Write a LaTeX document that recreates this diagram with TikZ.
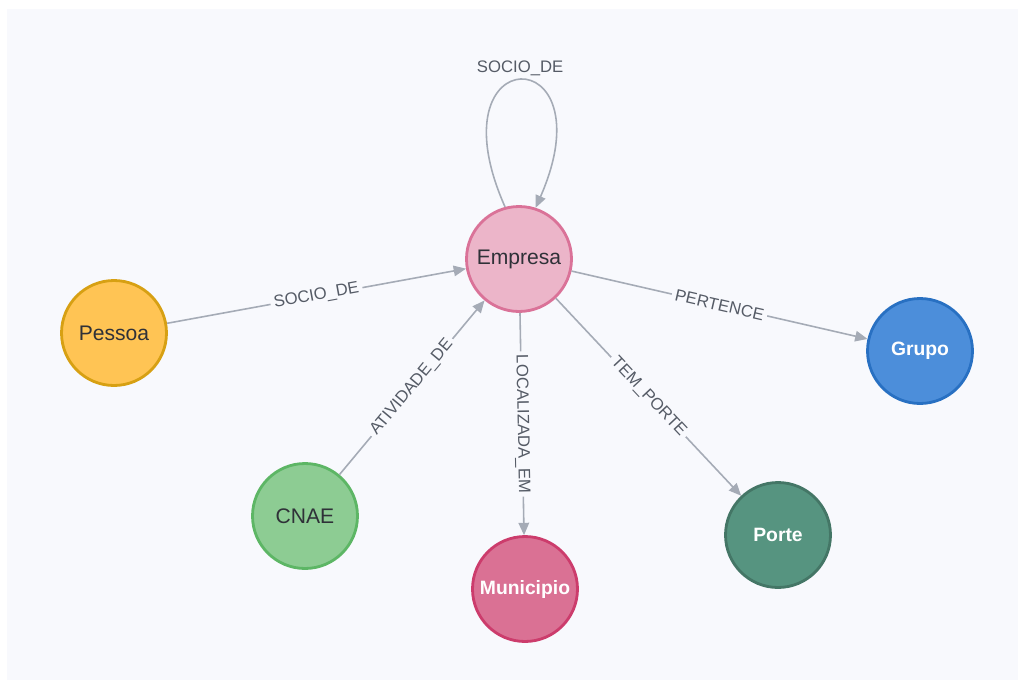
\documentclass[tikz,border=0pt]{standalone}
\usepackage{fontspec}
\setmainfont{Liberation Sans}
\usetikzlibrary{arrows.meta}
\definecolor{panel}{HTML}{F8F9FD}
\definecolor{relgray}{HTML}{A5ABB6}
\definecolor{labgray}{HTML}{555B66}
\definecolor{nodetext}{HTML}{2F3138}
\definecolor{pessoafill}{HTML}{FFC454}
\definecolor{pessoaline}{HTML}{D7A013}
\definecolor{empresafill}{HTML}{ECB5C9}
\definecolor{empresaline}{HTML}{DA7298}
\definecolor{cnaefill}{HTML}{8DCC93}
\definecolor{cnaeline}{HTML}{5DB665}
\definecolor{munfill}{HTML}{DA7194}
\definecolor{munline}{HTML}{CC3C6C}
\definecolor{portefill}{HTML}{569480}
\definecolor{porteline}{HTML}{447666}
\definecolor{grupofill}{HTML}{4C8EDA}
\definecolor{grupoline}{HTML}{2870C2}
\tikzset{
  entity/.style={circle, minimum size=2.1cm, inner sep=0pt, line width=1.6pt,
    font=\fontsize{12}{14}\selectfont, text=nodetext},
  lightentity/.style={entity, text=white, font=\fontsize{11}{13}\selectfont\bfseries},
  rel/.style={draw=relgray, line width=0.9pt, -{Triangle[length=7pt,width=6pt]}},
  rellabel/.style={fill=panel, inner sep=2pt, text=labgray, sloped,
    font=\fontsize{9.5}{11}\selectfont}
}

\begin{document}
\begin{tikzpicture}[x=0.02cm, y=-0.02cm]
  \useasboundingbox (0,0) rectangle (1018,680);
  \fill[white] (0,0) rectangle (1018,680);
  \fill[panel] (7,9) rectangle (1018,680);

  \node [entity, fill=empresafill, draw=empresaline] (empresa) at (519,259) {Empresa};
  \node [entity, fill=pessoafill, draw=pessoaline] (pessoa) at (114,333) {Pessoa};
  \node [entity, fill=cnaefill, draw=cnaeline] (cnae) at (305,516) {CNAE};
  \node [lightentity, fill=munfill, draw=munline] (municipio) at (525,589) {Municipio};
  \node [lightentity, fill=portefill, draw=porteline] (porte) at (778,535) {Porte};
  \node [lightentity, fill=grupofill, draw=grupoline] (grupo) at (920,351) {Grupo};

  \draw [rel] (pessoa) -- node [rellabel] {SOCIO\_DE} (empresa);
  \draw [rel] (cnae) -- node [rellabel] {ATIVIDADE\_DE} (empresa);
  \draw [rel] (empresa) -- node [rellabel] {LOCALIZADA\_EM} (municipio);
  \draw [rel] (empresa) -- node [rellabel] {TEM\_PORTE} (porte);
  \draw [rel] (empresa) -- node [rellabel] {PERTENCE} (grupo);

  % self loop
  \draw [rel] (empresa.105) .. controls (430,38) and (610,38) .. (empresa.72)
    coordinate [pos=0.5] (looptop);
  \node [rellabel, sloped=false, fill=none, anchor=south] (looplabel) at ([yshift=0.5pt]looptop) {SOCIO\_DE};
\end{tikzpicture}
\end{document}
